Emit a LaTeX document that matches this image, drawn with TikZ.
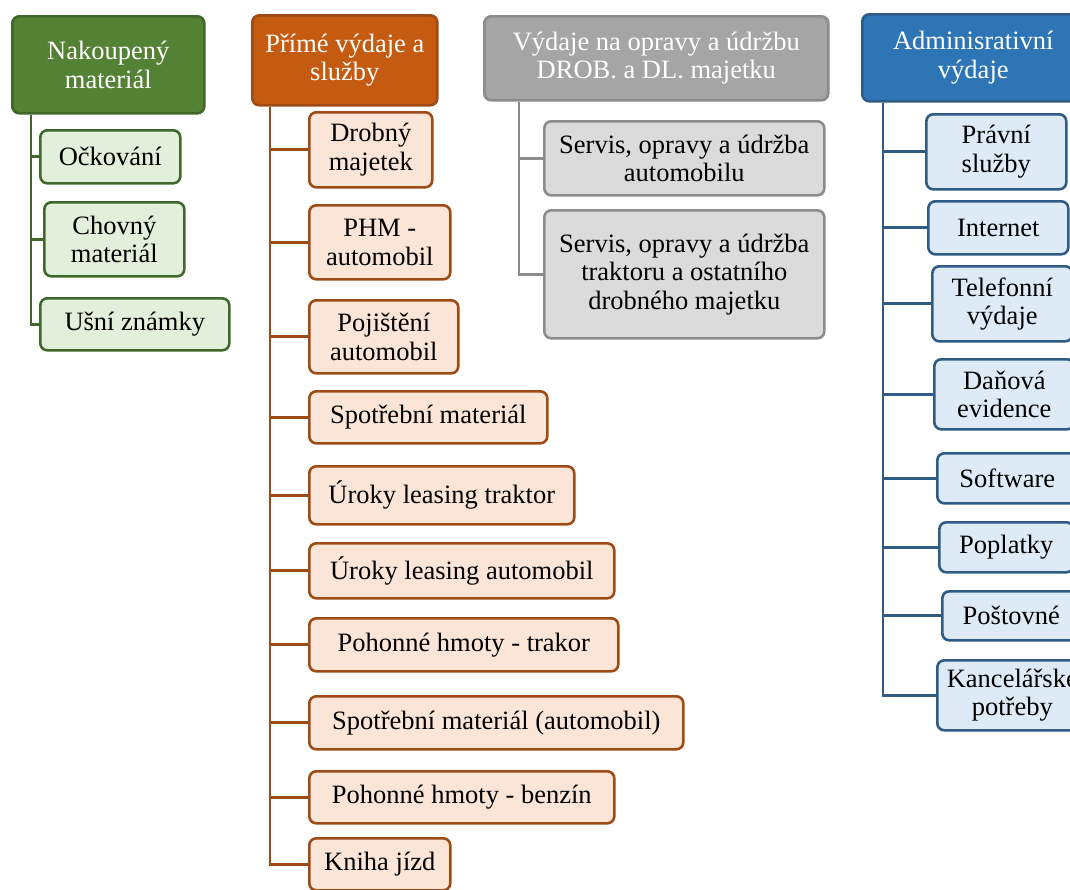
\documentclass[tikz,border=0pt]{standalone}
\usepackage{fontspec}
\setmainfont{Liberation Serif}
\usepackage{tikz}

\definecolor{grnhead}{HTML}{548235}
\definecolor{grnline}{HTML}{41682B}
\definecolor{grnfill}{HTML}{E2EFDA}
\definecolor{orghead}{HTML}{C55A11}
\definecolor{orgline}{HTML}{9E4B16}
\definecolor{orgfill}{HTML}{FBE5D6}
\definecolor{gryhead}{HTML}{A5A5A5}
\definecolor{gryline}{HTML}{8C8C8C}
\definecolor{gryfill}{HTML}{DBDBDB}
\definecolor{bluhead}{HTML}{2E75B6}
\definecolor{bluline}{HTML}{2F5C85}
\definecolor{blufill}{HTML}{DEEBF7}

\begin{document}
\begin{tikzpicture}[x=1pt, y=-1pt]
		\tikzset{
			box/.style={
				draw, rounded corners=7pt, line width=2.6pt, anchor=north west,
				align=center, inner sep=0pt, font=\fontsize{26.5}{28.5}\selectfont
			},
			ghead/.style={box, fill=grnhead, draw=grnline, text=white},
			gitem/.style={box, fill=grnfill, draw=grnline},
			ohead/.style={box, fill=orghead, draw=orgline, text=white},
			oitem/.style={box, fill=orgfill, draw=orgline},
			vhead/.style={box, fill=gryhead, draw=gryline, text=white},
			vitem/.style={box, fill=gryfill, draw=gryline},
			ahead/.style={box, fill=bluhead, draw=bluline, text=white},
			aitem/.style={box, fill=blufill, draw=bluline},
			tree/.style={line width=2.8pt}
		}
		
		\useasboundingbox (0,0) rectangle (1070,889);
		\clip (0,0) rectangle (1070,889);
		
		% Nakoupeny material
		\node [ghead, minimum width=192, minimum height=97] (hg) at (11,15) {Nakoupený\\materiál};
		\node [gitem, minimum width=140, minimum height=53] (g1) at (39,129) {Očkování};
		\node [gitem, minimum width=140, minimum height=74] (g2) at (43,201) {Chovný\\materiál};
		\node [gitem, minimum width=189, minimum height=52] (g3) at (39,297) {Ušní známky};
		\coordinate (gt) at ([xshift=20]hg.south west);
		
		% Prime vydaje a sluzby
		\node [ohead, minimum width=185, minimum height=90] (ho) at (251,14) {Přímé výdaje a\\služby};
		\node [oitem, minimum width=123, minimum height=75] (o1) at (308,111) {Drobný\\majetek};
		\node [oitem, minimum width=141, minimum height=74] (o2) at (308,204) {PHM -\\automobil};
		\node [oitem, minimum width=149, minimum height=73] (o3) at (308,299) {Pojištění\\automobil};
		\node [oitem, minimum width=238, minimum height=52] (o4) at (308,390) {Spotřební materiál};
		\node [oitem, minimum width=265, minimum height=58] (o5) at (308,465) {Úroky leasing traktor};
		\node [oitem, minimum width=305, minimum height=55] (o6) at (308,542) {Úroky leasing automobil};
		\node [oitem, minimum width=309, minimum height=53] (o7) at (308,617) {Pohonné hmoty - trakor};
		\node [oitem, minimum width=374, minimum height=53] (o8) at (308,695) {Spotřební materiál (automobil)};
		\node [oitem, minimum width=305, minimum height=52] (o9) at (308,770) {Pohonné hmoty - benzín};
		\node [oitem, minimum width=141, minimum height=52] (o10) at (308,837) {Kniha jízd};
		\coordinate (ot) at ([xshift=19]ho.south west);
		
		% Vydaje na opravy
		\node [vhead, minimum width=344, minimum height=84] (hv) at (483,15) {Výdaje na opravy a údržbu\\DROB. a DL. majetku};
		\node [vitem, minimum width=280, minimum height=74] (v1) at (543,120) {Servis, opravy a údržba\\automobilu};
		\node [vitem, minimum width=280, minimum height=128] (v2) at (543,209) {Servis, opravy a údržba\\traktoru a ostatního\\drobného majetku};
		\coordinate (vt) at ([xshift=36]hv.south west);
		
		% Administrativni vydaje
		\node [ahead, minimum width=222, minimum height=87] (ha) at (861,13) {Adminisrativní\\výdaje};
		\node [aitem, minimum width=140, minimum height=75] (a1) at (925,113) {Právní\\služby};
		\node [aitem, minimum width=140, minimum height=53] (a2) at (927,200) {Internet};
		\node [aitem, minimum width=140, minimum height=75] (a3) at (931,265) {Telefonní\\výdaje};
		\node [aitem, minimum width=140, minimum height=70] (a4) at (933,358) {Daňová\\evidence};
		\node [aitem, minimum width=140, minimum height=50] (a5) at (936,452) {Software};
		\node [aitem, minimum width=134, minimum height=50] (a6) at (938,521) {Poplatky};
		\node [aitem, minimum width=138, minimum height=49] (a7) at (941,590) {Poštovné};
		\node [aitem, minimum width=150, minimum height=70] (a8) at (936,659) {Kancelářské\\potřeby};
		\coordinate (at) at ([xshift=22]ha.south west);
		
		\foreach \i in {1, ..., 3}{
			\draw [tree, grnline] (gt) |- (g\i.west);
		}
		\foreach \i in {1, ..., 10}{
			\draw [tree, orgline] (ot) |- (o\i.west);
		}
		\foreach \i in {1, 2}{
			\draw [tree, gryline] (vt) |- (v\i.west);
		}
		\foreach \i in {1, ..., 8}{
			\draw [tree, bluline] (at) |- (a\i.west);
		}
\end{tikzpicture}
\end{document}
